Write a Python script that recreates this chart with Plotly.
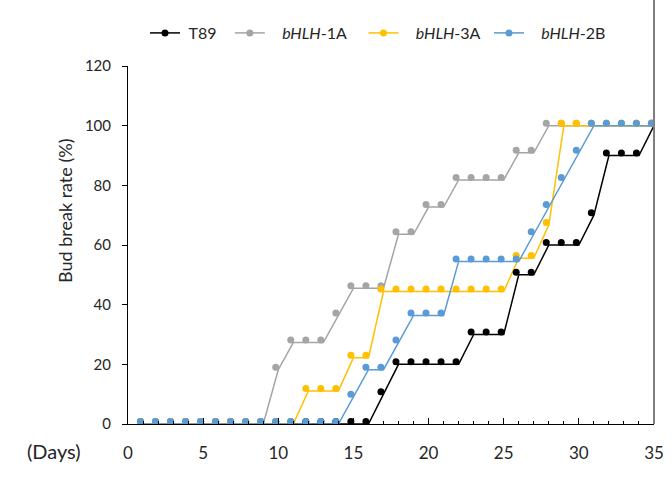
import plotly.graph_objects as go

# ---------------- data ----------------
days = list(range(1, 36))
t89 = [0, 0, 0, 0, 0, 0, 0, 0, 0, 0, 0, 0, 0, 0, 0, 0,
       10, 20, 20, 20, 20, 20, 30, 30, 30, 50, 50, 60, 60, 60,
       70, 90, 90, 90, 100]
bhlh_1a = [0, 0, 0, 0, 0, 0, 0, 0, 0, 18.2, 27.3, 27.3, 27.3, 36.4,
           45.5, 45.5, 45.5, 63.6, 63.6, 72.7, 72.7, 81.8, 81.8, 81.8, 81.8,
           90.9, 90.9, 100, 100, 100, 100, 100, 100, 100, 100]
bhlh_3a = [0, 0, 0, 0, 0, 0, 0, 0, 0, 0, 0, 11.1, 11.1, 11.1, 22.2, 22.2,
           44.4, 44.4, 44.4, 44.4, 44.4, 44.4, 44.4, 44.4, 44.4,
           55.6, 55.6, 66.7, 100, 100, 100, 100, 100, 100, 100]
bhlh_2b = [0, 0, 0, 0, 0, 0, 0, 0, 0, 0, 0, 0, 0, 0, 9.1, 18.2, 18.2,
           27.3, 36.4, 36.4, 36.4, 54.5, 54.5, 54.5, 54.5, 54.5,
           63.6, 72.7, 81.8, 90.9, 100, 100, 100, 100, 100]

series_names = ["T89", "<i>bHLH</i>-1A", "<i>bHLH</i>-3A", "<i>bHLH</i>-2B"]
series_values = [t89, bhlh_1a, bhlh_3a, bhlh_2b]
series_colors = ["#000000", "#A5A5A5", "#FFC000", "#5B9BD5"]
# spacing (leading, trailing non-breaking spaces) of the legend labels
legend_lead = [1, 3, 3, 3]
legend_trail = [2, 3, 1, 0]

x_ticks = [0, 5, 10, 15, 20, 25, 30, 35]
y_ticks = [0, 20, 40, 60, 80, 100, 120]

FONT = "Lato"
TXT = "#262626"
NB = "&nbsp;"

fig = go.Figure()

# lines on the main axes
for name, vals, col in zip(series_names, series_values, series_colors):
    fig.add_trace(go.Scatter(x=days, y=vals, mode="lines", showlegend=False,
                             line=dict(color=col, width=1.5),
                             xaxis="x", yaxis="y", hoverinfo="skip"))

# markers on an overlaid (slightly offset) scale, as in the original figure
for name, vals, col in zip(series_names, series_values, series_colors):
    fig.add_trace(go.Scatter(x=days, y=vals, mode="markers", showlegend=False,
                             marker=dict(color=col, size=7),
                             cliponaxis=False, xaxis="x2", yaxis="y2"))

# legend entries
for name, lead, trail, col in zip(series_names, legend_lead, legend_trail, series_colors):
    fig.add_trace(go.Scatter(x=[None], y=[None], mode="lines+markers",
                             name=NB * lead + name + NB * trail,
                             line=dict(color=col, width=1.5),
                             marker=dict(color=col, size=7)))

ML, MR, MT, MB = 128, 18, 66, 55
W, H = 672, 479
ph = H - MT - MB
pw = W - ML - MR

fig.update_layout(
    width=W, height=H,
    margin=dict(l=ML, r=MR, t=MT, b=MB, autoexpand=False),
    paper_bgcolor="white", plot_bgcolor="white",
    font=dict(family=FONT, color=TXT),
    showlegend=True,
    legend=dict(orientation="h", x=(145 - ML) / pw, xanchor="left",
                y=1 + (MT - 33) / ph, yanchor="middle",
                font=dict(size=16, family=FONT, color=TXT),
                bgcolor="rgba(0,0,0,0)"),
    xaxis=dict(range=[0, 35], tickvals=x_ticks, ticks="inside", ticklen=6,
               tickcolor="#000", tickwidth=1,
               minor=dict(dtick=1, ticks="inside", ticklen=3, tickcolor="#000"),
               showline=True, linecolor="#000", linewidth=1,
               showgrid=False, zeroline=False,
               tickfont=dict(size=17, family=FONT, color=TXT),
               ticklabelstandoff=14),
    yaxis=dict(range=[0, 120], tickvals=y_ticks, ticks="outside", ticklen=5,
               tickcolor="#000", tickwidth=1,
               showline=True, linecolor="#000", linewidth=1,
               showgrid=False, zeroline=False,
               tickfont=dict(size=15, family=FONT, color=TXT),
               ticklabelstandoff=8),
    xaxis2=dict(range=[0.17, 35.17], overlaying="x", visible=False),
    yaxis2=dict(range=[-0.84, 119.16], overlaying="y", visible=False),
)

# right border line
fig.add_shape(type="line", xref="paper", yref="paper", x0=1, x1=1,
              y0=0, y1=1 + MT / ph, line=dict(color="#7F7F7F", width=2))

# y-axis title
fig.add_annotation(text="Bud break rate (%)", xref="paper", yref="paper",
                   x=-(ML - 65) / pw, y=(H - MB - 211) / ph,
                   xanchor="center", yanchor="middle", textangle=-90,
                   showarrow=False, font=dict(size=18, family=FONT, color=TXT))

# "(Days)" label
fig.add_annotation(text="(Days)", xref="paper", yref="paper",
                   x=-(ML - 54) / pw, y=-(451 - (H - MB)) / ph,
                   xanchor="center", yanchor="middle",
                   showarrow=False, font=dict(size=20, family=FONT, color=TXT))

fig.write_html("out.html", config={"displayModeBar": False},
               post_script="document.body.style.margin='0';document.body.style.overflow='hidden';")
